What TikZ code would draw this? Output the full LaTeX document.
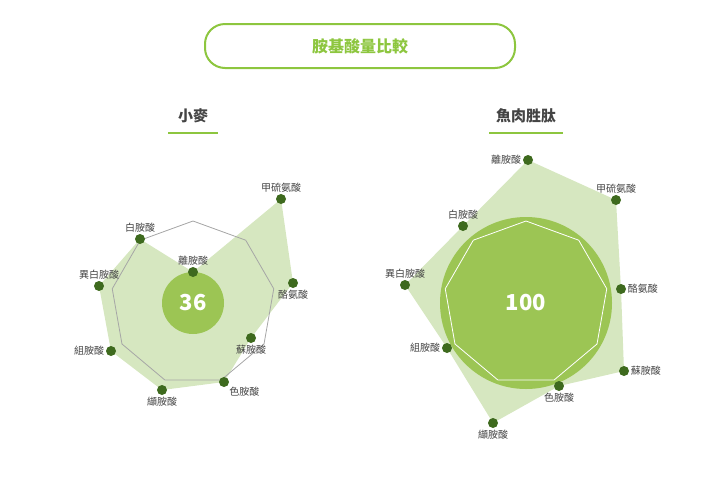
\documentclass[tikz,border=0pt]{standalone}
\usepackage{fontspec}
\setmainfont{Noto Sans CJK TC}
\usetikzlibrary{positioning}
\definecolor{lightgreen}{HTML}{D6E7C0}
\definecolor{midgreen}{HTML}{9CC554}
\definecolor{darkgreen}{HTML}{3E6A1E}
\definecolor{titlegreen}{HTML}{8DC63F}
\definecolor{textgray}{HTML}{444444}
\tikzset{
  dot/.style={circle,fill=darkgreen,inner sep=0pt,minimum size=10pt},
  lbl/.style={text=textgray,font=\fontsize{10}{12}\selectfont,inner sep=1.5pt},
  head/.style={text=textgray,font=\fontsize{15}{18}\selectfont\bfseries},
}
\begin{document}
\begin{tikzpicture}[x=1pt,y=-1pt]
  \useasboundingbox (0,0) rectangle (720,480);

  % title
  \node[draw=titlegreen,line width=2pt,rounded corners=20pt,minimum width=310pt,minimum height=44pt,
        text=titlegreen,font=\fontsize{16}{19}\selectfont\bfseries] (title) at (360,46) {胺基酸量比較};

  \node[head] (wheat) at (193,116) {小麥};
  \draw[titlegreen,line width=2pt] (168,133) -- (218,133);
  \node[head] (fish) at (526,116) {魚肉胜肽};
  \draw[titlegreen,line width=2pt] (489,133) -- (563,133);

  % wheat
  \coordinate (w1) at (193,272);
  \coordinate (w2) at (281,199);
  \coordinate (w3) at (293,283);
  \coordinate (w4) at (251,338);
  \coordinate (w5) at (224,382);
  \coordinate (w6) at (162,390);
  \coordinate (w7) at (111,351);
  \coordinate (w8) at (99,286);
  \coordinate (w9) at (140,239);
  \fill[lightgreen] (w1) -- (w2) -- (w3) -- (w4) -- (w5) -- (w6) -- (w7) -- (w8) -- (w9) -- cycle;
  \begin{scope}[shift={(193,303)},y=1pt]
    \draw[gray!70,line width=0.8pt] (90:82) -- (50:82) -- (10:82) -- (-30:82) -- (-70:82)
      -- (-110:82) -- (-150:82) -- (170:82) -- (130:82) -- cycle;
  \end{scope}
  \fill[midgreen] (193,303) circle (31);
  \node[text=white,font=\fontsize{22}{26}\selectfont\bfseries] (wval) at (193,303) {36};

  \node[dot,label={[lbl]above:離胺酸}] at (w1) {};
  \node[dot,label={[lbl]above:甲硫氨酸}] at (w2) {};
  \node[dot,label={[lbl]below:酪氨酸}] at (w3) {};
  \node[dot,label={[lbl]below:蘇胺酸}] at (w4) {};
  \node[dot,label={[lbl]below right:色胺酸}] at (w5) {};
  \node[dot,label={[lbl]below:纈胺酸}] at (w6) {};
  \node[dot,label={[lbl]left:組胺酸}] at (w7) {};
  \node[dot,label={[lbl]above:異白胺酸}] at (w8) {};
  \node[dot,label={[lbl]above:白胺酸}] at (w9) {};

  % fish
  \coordinate (f1) at (528,160);
  \coordinate (f2) at (616,200);
  \coordinate (f3) at (621,289);
  \coordinate (f4) at (624,371);
  \coordinate (f5) at (559,386);
  \coordinate (f6) at (493,423);
  \coordinate (f7) at (447,348);
  \coordinate (f8) at (405,285);
  \coordinate (f9) at (463,226);
  \fill[lightgreen] (f1) -- (f2) -- (f3) -- (f4) -- (f5) -- (f6) -- (f7) -- (f8) -- (f9) -- cycle;
  \fill[midgreen] (526,303) circle (86);
  \begin{scope}[shift={(526,303)},y=1pt]
    \draw[white,line width=0.8pt] (90:82) -- (50:82) -- (10:82) -- (-30:82) -- (-70:82)
      -- (-110:82) -- (-150:82) -- (170:82) -- (130:82) -- cycle;
  \end{scope}
  \node[text=white,font=\fontsize{22}{26}\selectfont\bfseries] (fval) at (526,303) {100};

  \node[dot,label={[lbl]left:離胺酸}] at (f1) {};
  \node[dot,label={[lbl]above:甲硫氨酸}] at (f2) {};
  \node[dot,label={[lbl]right:酪氨酸}] at (f3) {};
  \node[dot,label={[lbl]right:蘇胺酸}] at (f4) {};
  \node[dot,label={[lbl]below:色胺酸}] at (f5) {};
  \node[dot,label={[lbl]below:纈胺酸}] at (f6) {};
  \node[dot,label={[lbl]left:組胺酸}] at (f7) {};
  \node[dot,label={[lbl]above:異白胺酸}] at (f8) {};
  \node[dot,label={[lbl]above:白胺酸}] at (f9) {};
\end{tikzpicture}
\end{document}
